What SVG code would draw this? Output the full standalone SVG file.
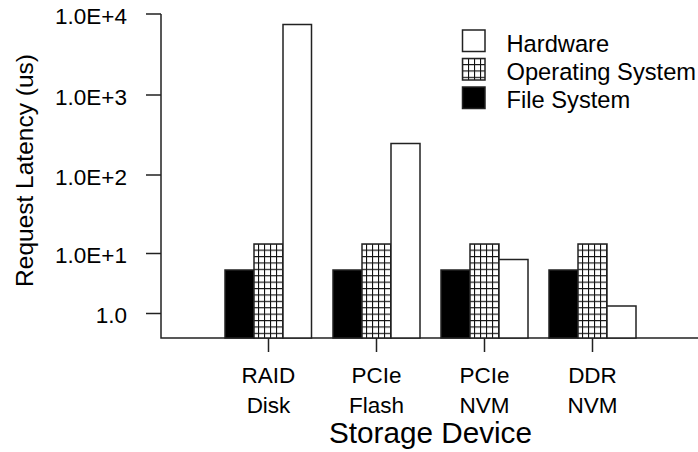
<svg xmlns="http://www.w3.org/2000/svg" width="698" height="452" viewBox="0 0 698 452">
<style>
text{font-family:"Liberation Sans",Arial,Helvetica,sans-serif;fill:#000}
.yl{font-size:22.5px;text-anchor:end}
.xl{font-size:22.5px;text-anchor:middle}
.lg{font-size:23.7px}
.ax{stroke:#222;stroke-width:1.5;fill:none}
.hw{fill:#fff;stroke:#222;stroke-width:1.5}
.os{fill:url(#grid);stroke:#222;stroke-width:1.5}
.fs{fill:#000;stroke:#222;stroke-width:1.5}
</style>
<defs>
<pattern id="grid" patternUnits="userSpaceOnUse" x="0" y="0" width="6" height="6.4">
<rect width="6" height="6.4" fill="#fff"/>
<path d="M0.5 0V6.4M0 0.5H6" stroke="#111" stroke-width="1.2"/>
</pattern>
</defs>
<g id="axes">
<path class="ax" d="M161 14V338H698"/>
<path class="ax" d="M146 14H161M146 95H161M146 175H161M146 253.5H161M146 313.5H161"/>
<path class="ax" d="M268.5 338V352M376.5 338V352M484.5 338V352M592.5 338V352"/>
<text class="yl" x="127" y="23.5">1.0E+4</text>
<text class="yl" x="127" y="104.5">1.0E+3</text>
<text class="yl" x="127" y="185">1.0E+2</text>
<text class="yl" x="127" y="263">1.0E+1</text>
<text class="yl" x="127" y="323">1.0</text>
<text x="32.5" y="170.5" font-size="24.5" text-anchor="middle" transform="rotate(-90 32.5 170.5)">Request Latency (us)</text>
<text class="xl" x="268.5" y="383">RAID</text>
<text class="xl" x="268.5" y="412.5">Disk</text>
<text class="xl" x="376.5" y="383">PCIe</text>
<text class="xl" x="376.5" y="412.5">Flash</text>
<text class="xl" x="484.5" y="383">PCIe</text>
<text class="xl" x="484.5" y="412.5">NVM</text>
<text class="xl" x="592.5" y="383">DDR</text>
<text class="xl" x="592.5" y="412.5">NVM</text>
<text x="430.5" y="443" font-size="29.7" text-anchor="middle">Storage Device</text>
</g>
<g id="bars">
<rect class="fs" x="225" y="270" width="29" height="68"/>
<rect class="os" x="254" y="244" width="29" height="94"/>
<rect class="hw" x="283" y="24.5" width="28.5" height="313.5"/>
<rect class="fs" x="333" y="270" width="29" height="68"/>
<rect class="os" x="362" y="244" width="29" height="94"/>
<rect class="hw" x="391" y="143.5" width="29" height="194.5"/>
<rect class="fs" x="441" y="270" width="29" height="68"/>
<rect class="os" x="470" y="244" width="29" height="94"/>
<rect class="hw" x="499" y="259.5" width="29" height="78.5"/>
<rect class="fs" x="549" y="270" width="29" height="68"/>
<rect class="os" x="578" y="244" width="29" height="94"/>
<rect class="hw" x="607" y="306" width="29" height="32"/>
</g>
<g id="legend">
<rect class="hw" x="462.5" y="30" width="22.5" height="21.5"/>
<rect class="os" x="462.5" y="58.5" width="22.5" height="21.5"/>
<rect class="fs" x="462.5" y="87" width="22.5" height="21.5"/>
<text class="lg" x="506.5" y="51.7">Hardware</text>
<text class="lg" x="506.5" y="80">Operating System</text>
<text class="lg" x="506.5" y="108.3">File System</text>
</g>
</svg>
